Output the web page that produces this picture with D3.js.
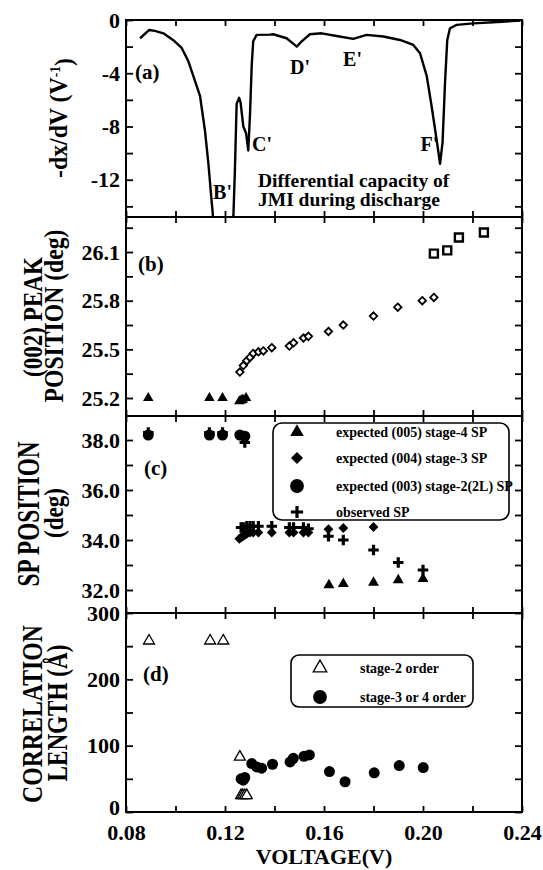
<!DOCTYPE html>
<html><head><meta charset="utf-8">
<script src="https://cdn.jsdelivr.net/npm/d3@7"></script>
<style>
body{margin:0;background:#fff}
svg text{font-family:"Liberation Serif","Times New Roman",serif;font-weight:bold;fill:#000}
</style>
</head><body>
<svg id="chart" width="543" height="870"></svg>
<script>
// ---------- DATA ----------
// (a) differential capacity curve
const curveV  = [0.0857,0.0894,0.0917,0.0951,0.099,0.1025,0.1052,0.1079,0.1099,0.1119,0.1133,0.1146,0.1155,0.1228,0.1234,0.124,0.1247,0.1257,0.1263,0.1274,0.1285,0.1294,0.1301,0.1308,0.1314,0.1328,0.1382,0.1395,0.1449,0.149,0.151,0.1543,0.1591,0.1651,0.1718,0.1772,0.184,0.1907,0.1961,0.1988,0.2015,0.2035,0.2055,0.2069,0.2079,0.2089,0.2098,0.2109,0.2136,0.2203,0.2284,0.2392];
const curveDx = [-1.37,-0.75,-0.82,-1.0,-1.5,-2.1,-3.1,-4.6,-5.7,-8.3,-10.8,-13.6,-15.5,-15.5,-14.7,-11.3,-6.3,-5.85,-6.2,-8.0,-8.5,-9.8,-7.1,-3.4,-1.6,-1.12,-1.1,-1.07,-1.37,-2.0,-1.6,-1.07,-1.0,-1.2,-1.42,-1.12,-1.24,-1.5,-1.87,-2.5,-4.2,-6.5,-9.0,-10.8,-9.2,-4.7,-1.5,-0.62,-0.37,-0.25,-0.17,-0.05];
const peakLabels = ["B'","C'","D'","E'","F'"];
const peakLabelV = [0.1152,0.1309,0.1463,0.1677,0.1990];
const peakLabelY = [-13.45,-9.84,-4.06,-3.46,-9.84];

// (b) (002) peak position
const bTriV = [0.089,0.1137,0.119,0.1258,0.1265,0.1272,0.1285];
const bTriY = [25.2,25.2,25.2,25.18,25.185,25.19,25.2];
const bDiaV = [0.126,0.1274,0.1288,0.1301,0.1314,0.1335,0.1355,0.1389,0.146,0.1477,0.1517,0.1537,0.1618,0.1678,0.18,0.1898,0.1997,0.2044];
const bDiaY = [25.36,25.40,25.43,25.45,25.475,25.485,25.49,25.51,25.52,25.54,25.57,25.58,25.61,25.65,25.705,25.76,25.80,25.82];
const bSqV = [0.2044,0.2098,0.2145,0.2246];
const bSqY = [26.09,26.11,26.19,26.22];

// (c) SP position
const cTriV = [0.162,0.1678,0.18,0.19,0.2];
const cTriY = [32.2,32.25,32.3,32.4,32.45];
const cDiaV = [0.1258,0.1265,0.1272,0.128,0.1288,0.1301,0.1314,0.1335,0.1389,0.146,0.1477,0.1517,0.1537,0.1618,0.1678,0.18];
const cDiaY = [34.05,34.1,34.15,34.2,34.25,34.3,34.3,34.3,34.3,34.3,34.3,34.3,34.3,34.43,34.48,34.52];
const cCirV = [0.089,0.1137,0.119,0.126,0.128];
const cCirY = [38.2,38.2,38.2,38.2,38.15];
const cPlusV = [0.089,0.1137,0.119,0.128,0.1265,0.1274,0.1288,0.1301,0.1314,0.1335,0.1389,0.146,0.1477,0.1517,0.1537,0.1618,0.1678,0.18,0.19,0.2];
const cPlusY = [38.3,38.3,38.3,37.9,34.5,34.5,34.55,34.55,34.55,34.55,34.55,34.5,34.5,34.5,34.45,34.15,34.0,33.6,33.1,32.8];
const cLegend = ["expected (005) stage-4 SP","expected (004) stage-3 SP","expected (003) stage-2(2L) SP","observed SP"];

// (d) correlation length
const dTriV = [0.0893,0.114,0.1193,0.126,0.1265,0.1272,0.128,0.1288];
const dTriY = [258,258,258,83,25,25,25,25];
const dCirV = [0.1265,0.1274,0.128,0.1308,0.1328,0.1348,0.1392,0.1463,0.1476,0.1519,0.1541,0.1622,0.1685,0.1803,0.1904,0.2001];
const dCirY = [50,48,52,73,68,66,72,75.5,81,84,86,61,45.6,59,70,67];
const dLegend = ["stage-2 order","stage-3 or 4 order"];

// axis ticks
const xTicks = [0.08,0.10,0.12,0.14,0.16,0.18,0.20,0.22,0.24];
const xLabels = [0.08,0.12,0.16,0.20,0.24];
const aTicks = [0,-2,-4,-6,-8,-10,-12,-14];
const aLabels = [0,-4,-8,-12];
const bTicks = [25.2,25.35,25.5,25.65,25.8,25.95,26.1,26.25];
const bLabels = [25.2,25.5,25.8,26.1];
const cTicks = [32,33,34,35,36,37,38];
const cLabels = [32,34,36,38];
const dTicks = [0,50,100,150,200,250,300];
const dLabels = [0,100,200,300];

// ---------- LAYOUT ----------
const svg = d3.select("#chart");
const L = 126, R = 522;
const x = d3.scaleLinear().domain([0.08,0.24]).range([L,R]);
const panels = {
  a:{top:20,bot:217,dom:[-14.8,0]},
  b:{top:217,bot:416,dom:[25.089,26.316]},
  c:{top:416,bot:613,dom:[31.08,38.96]},
  d:{top:613,bot:812,dom:[0,300]}
};
for (const k in panels){ const p=panels[k]; p.y=d3.scaleLinear().domain(p.dom).range([p.bot,p.top]); }

function styleAxis(g){
  g.select(".domain").remove();
  g.selectAll(".tick line").attr("stroke","#000").attr("stroke-width",1.8);
  g.selectAll(".tick text").attr("font-family",null).attr("font-size",22);
  g.attr("font-family",null).attr("font-size",null);
}

function drawPanel(p, ticks, labels, fmt, bottomLabels){
  const y=p.y;
  svg.append("g").attr("transform",`translate(${L},0)`)
    .call(d3.axisLeft(y).tickValues(ticks).tickSizeInner(-7).tickSizeOuter(0).tickPadding(6)
      .tickFormat(d=>labels.some(l=>Math.abs(l-d)<1e-9)?fmt(d):""))
    .call(styleAxis)
    .call(g=>{ if(bottomLabels) g.selectAll(".tick text").filter(d=>d===0).attr("dy","0.12em"); });
  svg.append("g").attr("transform",`translate(${R},0)`)
    .call(d3.axisRight(y).tickValues(ticks).tickSizeInner(-7).tickSizeOuter(0).tickFormat(""))
    .call(styleAxis);
  svg.append("g").attr("transform",`translate(0,${p.top})`)
    .call(d3.axisTop(x).tickValues(xTicks).tickSizeInner(-6).tickSizeOuter(0).tickFormat(""))
    .call(styleAxis);
  svg.append("g").attr("transform",`translate(0,${p.bot})`)
    .call(d3.axisBottom(x).tickValues(xTicks).tickSizeInner(-6).tickSizeOuter(0).tickPadding(12)
      .tickFormat(d=>bottomLabels && xLabels.some(l=>Math.abs(l-d)<1e-9)?d3.format(".2f")(d):""))
    .call(styleAxis);
  svg.append("rect").attr("x",L).attr("y",p.top).attr("width",R-L).attr("height",p.bot-p.top)
    .attr("fill","none").attr("stroke","#000").attr("stroke-width",2);
}

drawPanel(panels.a,aTicks,aLabels,d3.format("d"),false);
drawPanel(panels.b,bTicks,bLabels,d3.format(".1f"),false);
drawPanel(panels.c,cTicks,cLabels,d3.format(".1f"),false);
drawPanel(panels.d,dTicks,dLabels,d3.format("d"),true);
svg.selectAll(".tick text").each(function(){ const t=d3.select(this); t.text(t.text().replace("−","-")); });

// ---------- symbols ----------
const diamondSym = {draw(ctx,size){const r=Math.sqrt(size/2);ctx.moveTo(0,-r);ctx.lineTo(r,0);ctx.lineTo(0,r);ctx.lineTo(-r,0);ctx.closePath();}};
const squareSym = {draw(ctx,size){const r=Math.sqrt(size)/2;ctx.rect(-r,-r,2*r,2*r);}};
const plusSym = {draw(ctx,size){const r=Math.sqrt(size)/2;ctx.moveTo(-r,0);ctx.lineTo(r,0);ctx.moveTo(0,-r);ctx.lineTo(0,r);}};
function pts(vs,ys,yscale,sym,size,fill,stroke,sw){
  svg.append("g").selectAll("path").data(vs.map((v,i)=>[v,ys[i]])).join("path")
    .attr("transform",d=>`translate(${x(d[0])},${yscale(d[1])})`)
    .attr("d",d3.symbol().type(sym).size(size))
    .attr("fill",fill).attr("stroke",stroke).attr("stroke-width",sw);
}

// ---------- panel a ----------
svg.append("clipPath").attr("id","clipA").append("rect")
  .attr("x",L).attr("y",panels.a.top).attr("width",R-L).attr("height",panels.a.bot-panels.a.top);
svg.append("path").datum(curveV.map((v,i)=>[v,curveDx[i]]))
  .attr("clip-path","url(#clipA)")
  .attr("d",d3.line().x(d=>x(d[0])).y(d=>panels.a.y(d[1])))
  .attr("fill","none").attr("stroke","#000").attr("stroke-width",2.4).attr("stroke-linejoin","round");
peakLabels.forEach((t,i)=>svg.append("text").attr("x",x(peakLabelV[i])).attr("y",panels.a.y(peakLabelY[i]))
  .attr("font-size",20).text(t));
svg.append("text").attr("x",135).attr("y",79).attr("font-size",21).text("(a)");
svg.append("text").attr("x",258).attr("y",187).attr("font-size",19.5).text("Differential capacity of");
svg.append("text").attr("x",258).attr("y",206).attr("font-size",19.5).text("JMI during discharge");

// ---------- panel b ----------
pts(bTriV,bTriY,panels.b.y,d3.symbolTriangle,48,"#000","none",0);
pts(bDiaV,bDiaY,panels.b.y,diamondSym,28,"#fff","#000",1.8);
pts(bSqV,bSqY,panels.b.y,squareSym,64,"#fff","#000",2.4);
svg.append("text").attr("x",138).attr("y",271).attr("font-size",21).text("(b)");

// ---------- panel c ----------
pts(cTriV,cTriY,panels.c.y,d3.symbolTriangle,52,"#000","none",0);
pts(cDiaV,cDiaY,panels.c.y,diamondSym,48,"#000","none",0);
pts(cCirV,cCirY,panels.c.y,d3.symbolCircle,95,"#000","none",0);
pts(cPlusV,cPlusY,panels.c.y,plusSym,110,"none","#000",3.2);
svg.append("text").attr("x",144).attr("y",475).attr("font-size",21).text("(c)");
svg.append("rect").attr("x",273).attr("y",423).attr("width",236).attr("height",97).attr("rx",9)
  .attr("fill","#fff").attr("stroke","#000").attr("stroke-width",1.6);
const cLegSym=[[d3.symbolTriangle,80,"#000","none",0],[diamondSym,72,"#000","none",0],[d3.symbolCircle,150,"#000","none",0],[plusSym,150,"none","#000",3.2]];
const cRows=[432,458,486,512];
cLegend.forEach((t,i)=>{
  const s=cLegSym[i];
  svg.append("path").attr("transform",`translate(297,${cRows[i]})`).attr("d",d3.symbol().type(s[0]).size(s[1]))
    .attr("fill",s[2]).attr("stroke",s[3]).attr("stroke-width",s[4]);
  svg.append("text").attr("x",336).attr("y",cRows[i]+5).attr("font-size",14).text(t);
});

// ---------- panel d ----------
pts(dTriV,dTriY,panels.d.y,d3.symbolTriangle,52,"#fff","#000",1.3);
pts(dCirV,dCirY,panels.d.y,d3.symbolCircle,95,"#000","none",0);
svg.append("text").attr("x",143).attr("y",681).attr("font-size",21).text("(d)");
svg.append("rect").attr("x",291).attr("y",655).attr("width",182).attr("height",52).attr("rx",8)
  .attr("fill","#fff").attr("stroke","#000").attr("stroke-width",1.6);
const dLegSym=[[d3.symbolTriangle,80,"#fff","#000",1.3],[d3.symbolCircle,150,"#000","none",0]];
const dRows=[668,697];
dLegend.forEach((t,i)=>{
  const s=dLegSym[i];
  svg.append("path").attr("transform",`translate(320,${dRows[i]})`).attr("d",d3.symbol().type(s[0]).size(s[1]))
    .attr("fill",s[2]).attr("stroke",s[3]).attr("stroke-width",s[4]);
  svg.append("text").attr("x",360).attr("y",dRows[i]+5).attr("font-size",14).text(t);
});

// ---------- axis titles ----------
svg.append("text").attr("x",324).attr("y",864).attr("text-anchor","middle").attr("font-size",22).text("VOLTAGE(V)");

function vtitle(cx,cy,len,fs,build){
  const g=svg.append("g").attr("transform",`translate(${cx},${cy}) rotate(-90)`);
  const t=g.append("text").attr("text-anchor","middle").attr("dy","0.35em").attr("font-size",fs);
  build(t);
  const w=t.node().getComputedTextLength();
  t.attr("transform",`scale(${len/w},1)`);
}
vtitle(58,118,120,26,t=>{ t.append("tspan").text("-dx/dV (V"); t.append("tspan").attr("dy","-0.45em").attr("font-size",15).text("-1"); t.append("tspan").attr("dy","0.45em").text(")"); });
vtitle(32,317,120,28,t=>t.text("(002) PEAK"));
vtitle(53,316,173,28,t=>t.text("POSITION (deg)"));
vtitle(28,514,145,31,t=>t.text("SP POSITION"));
vtitle(53,513,50,28,t=>t.text("(deg)"));
vtitle(32,714,178,29,t=>t.text("CORRELATION"));
vtitle(57,713,137,29,t=>t.text("LENGTH (Å)"));
</script>
</body></html>
